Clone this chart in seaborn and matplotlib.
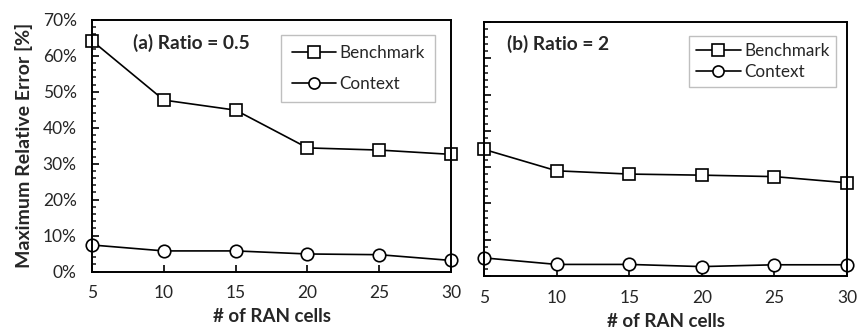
import pandas as pd
import matplotlib
matplotlib.use("Agg")
import matplotlib.pyplot as plt
from matplotlib.ticker import MultipleLocator, PercentFormatter
import seaborn as sns

# --- data ---
cells = [5, 10, 15, 20, 25, 30]
bench_a = [64.2, 47.7, 44.9, 34.4, 33.8, 32.6]
context_a = [7.4, 5.75, 5.75, 4.9, 4.7, 3.1]
bench_b = [34.9, 29.0, 28.1, 27.8, 27.4, 25.7]
context_b = [5.0, 3.2, 3.2, 2.6, 3.1, 3.1]
panel_titles = ["(a) Ratio = 0.5", "(b) Ratio = 2"]

sns.set_style("ticks")
plt.rcParams["font.family"] = ["Lato", "DejaVu Sans"]


def make_df(bench, ctx):
    return pd.DataFrame({
        "cells": cells * 2,
        "err": bench + ctx,
        "method": ["Benchmark"] * len(cells) + ["Context"] * len(cells),
    })


fig = plt.figure(figsize=(8.57, 3.29), dpi=100)
ax_a = fig.add_axes([0.1074, 0.1745, 0.419, 0.765])
ax_b = fig.add_axes([0.5648, 0.161, 0.4236, 0.772])

panels = [
    (ax_a, make_df(bench_a, context_a), (0.955, 0.94), 0.85, 0.6, (0.114, 0.909)),
    (ax_b, make_df(bench_b, context_b), (0.97, 0.945), 0.3, 0.4, (0.063, 0.913)),
]

for i, (ax, df, anchor, lspace, bpad, tpos) in enumerate(panels):
    sns.lineplot(data=df, x="cells", y="err", style="method", ax=ax,
                 markers={"Benchmark": "s", "Context": "o"},
                 dashes=False, color="black", linewidth=1.2,
                 markersize=9, markerfacecolor="white",
                 markeredgecolor="black", markeredgewidth=1.2)
    for line in ax.lines:
        line.set_clip_on(False)
    ax.set_xlim(5, 30)
    ax.set_ylim(0, 70)
    ax.set_xticks(cells)
    ax.yaxis.set_major_locator(MultipleLocator(10))
    ax.yaxis.set_minor_locator(MultipleLocator(2))
    ax.yaxis.set_major_formatter(PercentFormatter(decimals=0))
    ax.tick_params(axis="both", which="major", direction="in", length=5,
                   width=1.2, labelsize=12.5, color="black")
    ax.tick_params(axis="x", which="major", pad=10)
    ax.tick_params(axis="y", which="major", pad=11)
    ax.tick_params(axis="y", which="minor", direction="in", length=3,
                   width=1.2)
    for sp in ax.spines.values():
        sp.set_linewidth(1.4)
        sp.set_color("black")
    ax.text(tpos[0], tpos[1], panel_titles[i], transform=ax.transAxes,
            fontsize=13.8, fontweight="bold", va="center", ha="left")
    ax.set_xlabel("# of RAN cells", fontsize=13.5, fontweight="bold",
                  labelpad=5)
    leg = ax.legend(loc="upper right", bbox_to_anchor=anchor, fontsize=12.3,
                    handlelength=2.6, handletextpad=0.2, labelspacing=lspace,
                    borderpad=bpad, borderaxespad=0, fancybox=False,
                    framealpha=1)
    leg.get_frame().set_edgecolor("#bfbfbf")
    leg.get_frame().set_linewidth(1.0)
    for h in leg.legend_handles:
        h.set_markersize(8)

ax_a.set_ylabel("Maximum Relative Error [%]", fontsize=14,
                fontweight="bold", labelpad=7)
ax_b.set_ylabel("")
ax_b.tick_params(axis="y", labelleft=False)

fig.savefig("out.png", dpi=100)
